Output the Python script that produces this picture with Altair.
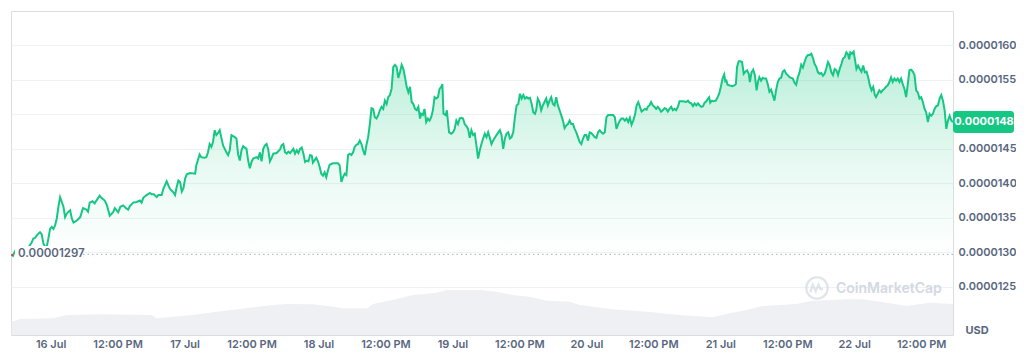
import altair as alt
import pandas as pd

# ---------------- data ----------------
# time axis: hours since 15 Jul 17:00 (16 Jul 00:00 == 7)
hours = [
    0.0, 0.25, 0.7, 1.5, 2.3, 3.1, 3.6,
    3.9, 4.2, 4.5, 4.8, 5.1, 5.4, 5.7, 6.0, 6.3, 6.6,
    6.9, 7.2, 7.5, 7.8, 8.1, 8.4, 8.7, 9.0, 9.3, 9.6,
    9.9, 10.2, 10.5, 10.8, 11.1, 11.7, 12.3, 12.8, 13.4, 13.7,
    14.0, 14.5, 14.9, 15.2, 15.8, 16.1, 16.7, 17.1, 17.6, 18.2,
    18.5, 18.8, 19.1, 19.5, 20.0, 20.5, 20.9, 21.2, 21.8, 22.4,
    23.0, 23.3, 23.6, 24.2, 24.8, 25.1, 25.5, 26.0, 26.3, 26.9,
    27.2, 27.8, 28.1, 28.4, 29.0, 29.3, 29.6, 29.9, 30.2, 30.5,
    30.8, 31.1, 31.4, 32.0, 32.9, 33.1, 33.7, 34.0, 34.5, 34.9,
    35.2, 35.5, 35.8, 36.1, 36.4, 36.7, 37.0, 37.3, 37.6, 37.9,
    38.2, 38.5, 38.8, 39.1, 39.4, 40.0, 40.3, 40.6, 40.9, 41.2,
    41.5, 42.1, 42.4, 42.7, 43.0, 43.3, 43.9, 44.2, 44.5, 44.8,
    45.1, 45.4, 45.7, 46.0, 46.3, 46.6, 46.9, 47.5, 48.1, 48.4,
    48.7, 49.0, 49.3, 49.6, 49.9, 50.5, 50.8, 51.1, 51.4, 51.7,
    52.0, 52.3, 52.6, 52.9, 53.2, 53.5, 53.8, 54.0, 54.6, 54.9,
    55.2, 55.5, 55.8, 56.1, 56.4, 56.7, 57.0, 57.6, 58.2, 58.5,
    58.8, 59.1, 59.4, 59.7, 60.0, 60.3, 60.6, 60.9, 61.2, 61.5,
    61.8, 62.1, 62.4, 62.7, 63.0, 63.3, 63.6, 63.9, 64.2, 64.5,
    64.8, 65.1, 65.4, 65.7, 66.0, 66.3, 66.6, 66.9, 67.2, 67.5,
    67.8, 68.1, 68.4, 68.7, 69.0, 69.3, 69.6, 69.9, 70.2, 70.5,
    70.8, 71.1, 71.4, 71.7, 72.0, 72.3, 72.6, 72.9, 73.2, 73.4,
    73.7, 74.0, 74.3, 74.6, 74.9, 75.2, 75.5, 75.8, 76.1, 76.4,
    76.7, 77.0, 77.2, 77.4, 77.8, 78.0, 78.4, 78.8, 79.1, 79.4,
    79.7, 80.0, 80.3, 80.6, 80.9, 81.2, 81.5, 81.8, 82.1, 82.4,
    82.7, 83.0, 83.3, 83.6, 83.9, 84.2, 84.5, 84.8, 85.1, 85.4,
    85.7, 86.0, 86.3, 86.9, 87.5, 87.8, 88.1, 88.4, 88.7, 89.0,
    89.3, 89.6, 89.9, 90.2, 90.5, 90.8, 91.1, 91.4, 91.7, 92.0,
    92.3, 92.6, 92.9, 93.2, 93.5, 93.8, 94.0, 94.3, 94.6, 94.9,
    95.2, 95.5, 95.8, 96.1, 96.4, 96.7, 97.0, 97.3, 97.6, 97.9,
    98.2, 98.5, 98.8, 99.1, 99.4, 99.7, 100.0, 100.3, 100.6, 100.9,
    101.2, 101.5, 101.8, 102.1, 102.4, 102.7, 103.0, 103.3, 103.6, 103.9,
    104.2, 104.5, 104.8, 105.1, 105.4, 105.7, 106.0, 106.3, 106.6, 106.9,
    107.2, 107.8, 108.1, 108.4, 108.7, 109.0, 109.3, 109.6, 109.9, 110.2,
    110.5, 110.8, 111.1, 111.4, 111.7, 112.0, 112.3, 112.6, 112.9, 113.2,
    113.5, 113.8, 114.0, 114.3, 114.6, 114.9, 115.2, 115.5, 115.8, 116.1,
    116.4, 116.7, 117.0, 117.3, 117.6, 117.9, 118.2, 118.5, 118.8, 119.1,
    119.4,
    119.7, 120.3, 120.9, 121.2, 121.5, 121.8, 122.1, 122.4, 122.7, 123.0,
    123.3, 123.6, 123.9, 124.2, 124.5, 124.8, 125.0, 125.2, 125.5, 125.8,
    126.2, 126.4, 126.8, 127.1, 127.4, 127.7, 127.9, 128.1, 128.3, 128.7,
    129.2, 129.5, 129.8, 130.0, 130.3, 130.6, 130.9, 131.2, 131.5, 131.8,
    132.1, 132.3, 132.6, 132.9, 133.2, 133.5, 133.8, 134.0, 134.3, 134.6,
    134.9, 135.2, 135.5, 135.8, 136.1, 136.4, 136.7, 137.0, 137.3, 137.6,
    137.9, 138.2, 138.5, 138.8, 139.1, 139.4, 140.0, 140.3, 140.6, 140.9,
    141.2, 141.5, 141.8, 142.1, 142.4, 142.7, 143.0, 143.3, 143.6, 143.9,
    144.2, 144.5, 144.8, 145.1, 145.4, 145.7, 146.0, 146.3, 146.6, 146.9,
    147.2, 147.5, 147.8, 148.1, 148.4, 148.7, 149.0, 149.3, 149.6, 149.9,
    150.1, 150.3, 150.6, 150.9, 151.1, 151.4, 151.7, 152.0, 152.3, 152.6,
    152.9, 153.2, 153.5, 153.8, 154.1, 154.4, 154.7, 154.9, 155.2, 155.5,
    155.8, 156.1, 156.4, 156.7, 157.0, 157.3, 157.6, 157.9, 158.2, 158.5,
    158.8, 159.1, 159.4, 159.7, 160.0, 160.3, 160.6, 160.9, 161.2, 161.5,
    161.8, 162.1, 162.4, 162.7, 163.0, 163.3, 163.6, 163.9, 164.2, 164.5,
    164.8, 165.1, 165.4, 165.7, 166.0, 166.3, 166.6, 166.9, 167.2, 167.5,
    167.8, 168.1, 168.4, 168.7,
]

# price in units of 1e-7 USD
price_e7 = [
    129.7, 129.5, 130.3, 130.6, 130.4, 130.8, 131.4,
    132.0, 132.1, 132.4, 132.7, 132.9, 132.6, 131.3, 130.8, 130.8, 132.0,
    133.4, 133.7, 133.4, 133.9, 134.9, 136.6, 138.0, 137.3, 136.6, 135.1,
    135.6, 135.9, 136.1, 134.9, 134.3, 134.6, 135.1, 136.4, 136.2, 135.9,
    137.2, 137.4, 137.1, 137.5, 138.2, 137.9, 137.5, 136.8, 135.3, 135.8,
    136.4, 136.1, 135.8, 136.6, 136.8, 136.4, 136.2, 136.7, 137.2, 137.3,
    137.5, 137.2, 137.9, 138.3, 138.6, 138.4, 138.4, 138.0, 138.3, 138.3,
    139.2, 140.3, 139.7, 139.2, 138.7, 138.3, 139.5, 140.4, 140.2, 138.8,
    139.3, 140.7, 141.3, 141.5, 141.4, 142.6, 144.2, 143.8, 143.7, 143.8,
    144.5, 145.7, 145.3, 146.0, 147.7, 147.0, 147.3, 147.7, 146.6, 145.5,
    145.0, 144.5, 144.1, 144.8, 147.0, 146.7, 146.5, 144.2, 143.3, 144.8,
    145.4, 145.0, 143.3, 142.2, 143.1, 143.6, 143.8, 143.6, 144.5, 143.2,
    145.0, 145.5, 145.7, 144.9, 143.2, 143.7, 144.3, 144.4, 144.9, 145.5,
    145.7, 144.5, 144.3, 144.6, 144.4, 145.0, 144.3, 144.8, 144.4, 145.0,
    145.2, 144.3, 143.1, 143.3, 143.2, 144.1, 144.0, 143.0, 143.7, 143.2,
    142.4, 141.4, 141.1, 141.6, 140.9, 141.9, 142.7, 142.9, 142.9, 142.9,
    142.6, 140.2, 140.9, 141.4, 141.2, 144.1, 144.3, 144.1, 144.5, 145.3,
    145.6, 145.7, 146.2, 145.7, 144.8, 144.1, 145.6, 146.7, 148.6, 150.9,
    150.8, 149.6, 149.4, 149.9, 150.6, 151.1, 150.8, 152.0, 151.5, 152.5,
    152.8, 153.7, 156.9, 157.2, 156.9, 155.3, 156.1, 157.2, 156.6, 155.4,
    154.0, 153.2, 154.0, 151.8, 151.5, 150.8, 150.6, 151.1, 149.4, 150.1,
    149.9, 150.8, 148.9, 149.4, 149.1, 149.6, 150.6, 152.5, 152.3, 152.5,
    153.7, 154.0, 154.4, 150.1, 149.9, 150.6, 147.4, 147.2, 147.4, 147.9,
    149.1, 148.6, 149.4, 149.5, 149.4, 148.6, 148.3, 147.9, 146.6, 147.7,
    147.0, 147.2, 145.5, 143.6, 144.8, 145.7, 146.5, 147.2, 146.7, 147.4,
    146.6, 145.7, 146.2, 147.0, 147.7, 147.0, 145.0, 146.5, 147.2, 147.4,
    146.5, 146.7, 147.4, 149.6, 151.3, 151.5, 153.0, 152.3, 152.8, 152.3,
    152.5, 152.3, 152.4, 151.5, 150.3, 150.1, 150.6, 152.3, 151.8, 150.6,
    151.3, 151.8, 152.3, 151.3, 152.0, 152.5, 151.5, 151.3, 152.5, 151.3,
    150.6, 149.9, 149.1, 148.0, 148.4, 148.6, 149.1, 148.6, 148.6, 147.9,
    147.4, 146.7, 146.0, 145.7, 146.5, 147.0, 147.0, 146.2, 147.4, 147.3,
    147.0, 146.7, 146.6, 147.4, 147.7, 147.4, 147.2, 147.4, 149.6, 149.9,
    149.9, 149.9, 149.6, 147.9, 148.6, 149.1, 149.4, 149.4, 149.1, 149.4,
    148.9, 149.5, 148.5, 149.1, 149.9, 151.3, 151.8, 151.1, 150.4, 150.6,
    150.8, 150.7, 151.1, 151.3, 151.8, 151.3, 151.1, 150.8, 151.1, 150.8,
    150.4, 150.6, 150.9, 150.8, 150.4, 150.8, 151.1, 150.6, 150.8, 150.6,
    151.1,
    151.9, 151.9, 151.8, 152.0, 151.7, 151.6, 151.2, 151.6, 151.3, 151.6,
    151.3, 151.1, 151.2, 151.7, 151.9, 152.3, 152.5, 151.7, 152.0, 151.9,
    152.0, 152.3, 153.0, 154.0, 155.2, 155.8, 154.8, 154.9, 154.3, 154.2,
    154.1, 154.2, 154.4, 156.9, 157.7, 157.7, 157.6, 155.9, 156.2, 156.4,
    155.9, 154.7, 156.1, 156.5, 155.7, 153.5, 154.9, 155.4, 154.9, 155.3,
    155.2, 155.2, 154.4, 153.3, 153.6, 152.8, 152.0, 153.5, 154.7, 155.2,
    155.3, 156.2, 156.4, 155.9, 155.7, 155.4, 155.2, 154.6, 154.3, 155.4,
    156.1, 157.2, 156.8, 157.6, 158.3, 158.6, 158.6, 158.8, 158.2, 157.3,
    156.9, 156.1, 155.9, 156.0, 155.6, 155.9, 156.7, 157.6, 157.1, 156.1,
    155.7, 156.6, 156.4, 155.7, 156.6, 157.3, 158.1, 158.3, 159.0, 158.7,
    158.0, 159.0, 158.8, 159.1, 158.1, 156.6, 157.1, 156.6, 156.2, 157.1,
    156.1, 156.2, 155.4, 154.2, 153.5, 154.0, 152.8, 152.5, 153.0, 153.5,
    153.2, 153.5, 153.7, 154.0, 154.2, 154.7, 155.4, 154.7, 155.2, 154.9,
    155.2, 154.7, 155.2, 154.4, 153.7, 152.5, 154.4, 156.4, 156.5, 156.2,
    155.7, 153.5, 153.2, 152.3, 152.5, 151.8, 150.8, 150.3, 148.9, 150.1,
    149.8, 150.1, 150.8, 151.2, 151.3, 152.3, 152.8, 152.0, 150.6, 147.9,
    149.1, 149.8, 149.1, 148.9,
]

# relative trading volume (arbitrary units) at the bottom of the chart
vol_hours = [0, 1.5, 7.4, 9.9, 15.8, 25.1, 26.0, 29.0, 32.5, 36.8,
             40.9, 46.8, 49.3, 54.0, 57.6, 59.4, 63.7, 64.8, 68.3, 71.9,
             76.2, 78.0, 83.9, 86.9, 89.8, 92.8, 95.9, 100.0, 101.8, 107.7,
             113.8, 119.7, 125.6, 128.7, 131.7, 134.6, 140.6, 143.5, 149.6, 152.5,
             156.8, 160.4, 164.5, 168.7]
vol_rel = [13.3, 16, 16.7, 20, 20.7, 20, 16.7, 18.3, 20, 23.3,
           26, 30, 31, 30.7, 28.3, 26.7, 26.7, 31, 35, 40,
           42.3, 45, 45, 43.3, 40, 38.3, 34.3, 33.3, 30, 25.7,
           23.3, 20, 17.7, 21.7, 25, 29, 31, 34.3, 35.7, 35.7,
           32.3, 29, 32.3, 31]

open_price = 0.00001297
open_label = "0.00001297"
last_label = "0.0000148"
x_tick_hours = [7, 19, 31, 43, 55, 67, 79, 91, 103, 115, 127, 139, 151, 163]
y_ticks = [0.0000125, 0.0000130, 0.0000135, 0.0000140,
           0.0000145, 0.0000150, 0.0000155, 0.0000160]

assert len(hours) == len(price_e7)
assert len(vol_hours) == len(vol_rel)

# ---------------- chart ----------------
GREEN = "#16c784"
TXT = "#58667e"
WM = "#d3d9e3"
FONT = "Inter"
W, H = 942, 324
X_DOMAIN = [-0.1, 168.7]
Y_DOMAIN = [0.00001180, 0.00001650]

df = pd.DataFrame({"h": hours, "p": [v * 1e-7 for v in price_e7]})
df["base"] = open_price
vdf = pd.DataFrame({"h": vol_hours, "vol": vol_rel})
last_df = df.tail(1)
one = pd.DataFrame({"k": [0]})

xscale = alt.Scale(domain=X_DOMAIN, nice=False, zero=False)
yscale = alt.Scale(domain=Y_DOMAIN, nice=False, zero=False)

x_axis = alt.Axis(
    values=x_tick_hours,
    labelExpr="(datum.value - 7) % 24 == 0 ? (16 + (datum.value - 7) / 24) + ' Jul' : '12:00 PM'",
    grid=False, ticks=False, tickSize=0, domain=False, labelPadding=12,
    labelBaseline="alphabetic",
    labelFontSize=11, labelColor=TXT, labelFont=FONT, labelFontWeight=600, title=None,
)
y_axis = alt.Axis(
    orient="right", values=y_ticks, format=".7f",
    labelExpr="(datum.value > 0.00001499 && datum.value < 0.00001501) ? '' : datum.label",
    grid=True, gridColor="#eff2f5", gridWidth=1, ticks=False, tickSize=0, domain=False,
    labelPadding=5, labelFontSize=11, labelColor=TXT, labelFont=FONT, labelFontWeight=600,
    title=None,
)

X = alt.X("h:Q", scale=xscale, axis=x_axis)

volume = alt.Chart(vdf).mark_area(color="#eef0f4", interpolate="linear").encode(
    x=X, y=alt.Y("vol:Q", scale=alt.Scale(domain=[0, H], nice=False), axis=None)
)

grad = alt.Gradient(
    gradient="linear",
    stops=[alt.GradientStop(color="rgba(22,199,132,0.30)", offset=0),
           alt.GradientStop(color="rgba(22,199,132,0.10)", offset=0.55),
           alt.GradientStop(color="rgba(22,199,132,0.0)", offset=1)],
    x1=0, x2=0, y1=0, y2=1,
)
area = alt.Chart(df).mark_area(color=grad).encode(
    x=X, y=alt.Y("p:Q", scale=yscale, axis=y_axis), y2="base:Q"
)
line = alt.Chart(df).mark_line(color=GREEN, strokeWidth=2).encode(
    x=X, y=alt.Y("p:Q", scale=yscale)
)
red = alt.Chart(df.head(2)).mark_line(color="#ea3943", strokeWidth=2).encode(
    x=X, y=alt.Y("p:Q", scale=yscale)
)
base_rule = alt.Chart(one).mark_rule(color="#a6b0c3", strokeDash=[1.5, 3], strokeWidth=1).encode(
    y=alt.Y("y:Q", scale=yscale), x=alt.value(72), x2=alt.value(W)
).transform_calculate(y=str(open_price))
label_box = alt.Chart(one).mark_rect(color="white").encode(
    x=alt.value(4), x2=alt.value(70), y=alt.value(235), y2=alt.value(253)
)
base_text = alt.Chart(one).mark_text(
    align="left", baseline="middle", fontSize=11.5, font=FONT, fontWeight=600, color=TXT
).encode(
    x=alt.value(7), y=alt.Y("y:Q", scale=yscale), text=alt.value(open_label)
).transform_calculate(y=str(open_price))

tag = alt.Chart(last_df).mark_rect(color=GREEN, cornerRadius=3, yOffset=-11, y2Offset=11).encode(
    x=alt.value(W), x2=alt.value(W + 61), y=alt.Y("p:Q", scale=yscale), y2="p:Q"
)
tag_text = alt.Chart(last_df).mark_text(
    color="white", fontSize=11, font=FONT, fontWeight=700, align="center", baseline="middle"
).encode(
    x=alt.value(W + 31), y=alt.Y("p:Q", scale=yscale), text=alt.value(last_label)
)
usd = alt.Chart(one).mark_text(
    color=TXT, fontSize=11, font=FONT, fontWeight=700, align="center", baseline="middle"
).encode(x=alt.value(W + 24), y=alt.value(320), text=alt.value("USD"))

wm_circle = alt.Chart(one).mark_point(
    shape="circle", filled=False, size=460, stroke=WM, strokeWidth=2.2
).encode(x=alt.value(806), y=alt.value(277))
wm_wave = alt.Chart(one).mark_point(
    shape="M-0.62,0.4 L-0.4,-0.3 L-0.12,0.3 L0.15,-0.3 L0.32,0.1 L0.55,0.1",
    filled=False, size=460, stroke=WM, strokeWidth=2.2,
).encode(x=alt.value(806), y=alt.value(277))
wm_text = alt.Chart(one).mark_text(
    color=WM, fontSize=14, font=FONT, fontWeight=600, align="left", baseline="middle"
).encode(x=alt.value(825), y=alt.value(278), text=alt.value("CoinMarketCap"))

price = alt.layer(area, line, red, base_rule, label_box, base_text,
                  wm_circle, wm_wave, wm_text, tag, tag_text, usd)

chart = alt.layer(volume, price).resolve_scale(y="independent").properties(
    width=W, height=H,
    autosize=alt.AutoSizeParams(type="none"),
    padding={"left": 3, "top": 3, "right": 63, "bottom": 16},
    background="white",
).configure_view(stroke="#eff2f5", strokeWidth=1).configure(font=FONT)

chart.save("out.html", embed_options={"renderer": "svg", "actions": False})
